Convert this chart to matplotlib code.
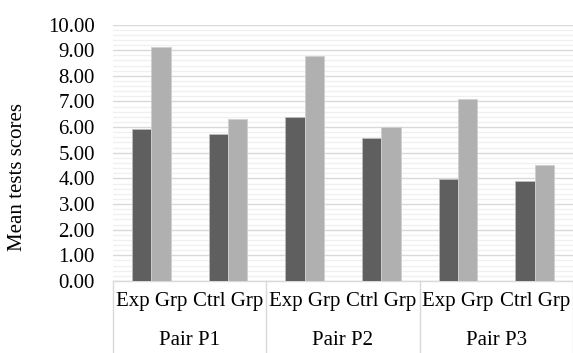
import matplotlib
matplotlib.use("Agg")
import matplotlib.pyplot as plt
import matplotlib.ticker as ticker
import numpy as np

# Chart data
groups = ["Exp Grp", "Ctrl Grp", "Exp Grp", "Ctrl Grp", "Exp Grp", "Ctrl Grp"]
pairs = ["Pair P1", "Pair P2", "Pair P3"]
series_dark = [5.92, 5.72, 6.39, 5.58, 3.97, 3.90]
series_light = [9.13, 6.31, 8.78, 5.99, 7.08, 4.52]

plt.rcParams["font.family"] = ["Liberation Serif", "DejaVu Serif"]

fig = plt.figure(figsize=(5.73, 3.53), dpi=100)
ax = fig.add_axes([113 / 573, 1 - 281 / 353, 460 / 573, 256.5 / 353])

x = np.arange(len(groups))
w = 0.253
ax.bar(x - w / 2, series_dark, width=w, color="#5f5f5f",
       edgecolor="#bdbdbd", linewidth=0.6, zorder=3)
ax.bar(x + w / 2, series_light, width=w, color="#b0b0b0",
       edgecolor="#cfcfcf", linewidth=0.6, zorder=3)

ax.set_xlim(-0.5, len(groups) - 0.5)
ax.set_ylim(0, 10)
ax.yaxis.set_major_locator(ticker.MultipleLocator(1))
ax.yaxis.set_minor_locator(ticker.MultipleLocator(0.2))
ax.yaxis.set_major_formatter(ticker.StrMethodFormatter("{x:.2f}"))
ax.grid(axis="y", which="major", color="#d9d9d9", linewidth=1.0, zorder=1)
ax.grid(axis="y", which="minor", color="#f0f0f0", linewidth=1.0, zorder=0)
ax.tick_params(axis="y", which="both", length=0, pad=13, labelsize=15)
ax.tick_params(axis="x", which="both", length=0, labelbottom=False)
for s in ["top", "right", "left"]:
    ax.spines[s].set_visible(False)
ax.spines["bottom"].set_color("#d9d9d9")
ax.spines["bottom"].set_linewidth(1.0)

ax.set_ylabel("Mean tests scores", fontsize=15)
ax.yaxis.set_label_coords(-0.187, 0.405)

# Two-level category axis
trans = ax.get_xaxis_transform()
for xi, lab in zip(x, groups):
    ax.text(xi, -(306 - 281) / 256.5, lab, transform=trans, ha="center",
            va="baseline", fontsize=15)
for i, lab in enumerate(pairs):
    ax.text(2 * i + 0.5, -(345 - 281) / 256.5, lab, transform=trans,
            ha="center", va="baseline", fontsize=15)
for xb in [-0.5, 1.5, 3.5, 5.5]:
    ax.plot([xb, xb], [0, -0.29], transform=trans, color="#d9d9d9",
            linewidth=1.0, clip_on=False)

fig.savefig("out.png", dpi=100)
